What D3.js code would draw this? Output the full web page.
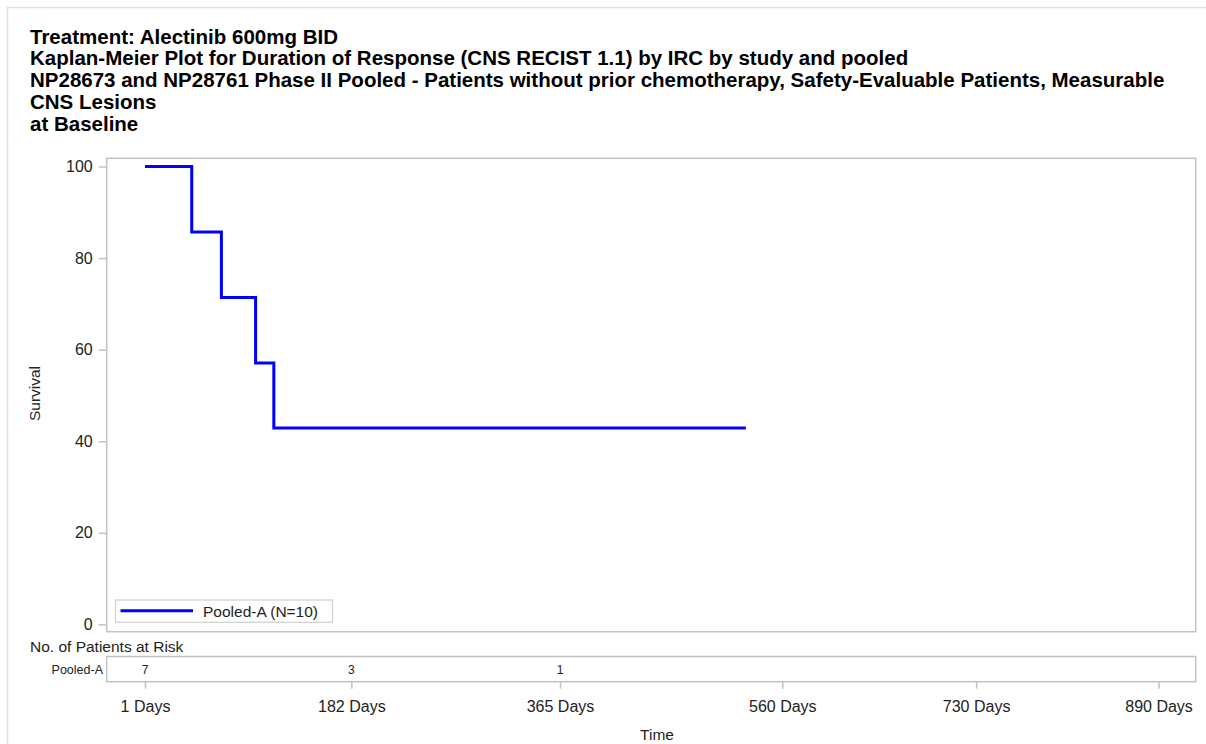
<!DOCTYPE html>
<html>
<head>
<meta charset="utf-8">
<script src="https://cdn.jsdelivr.net/npm/d3@7"></script>
<style>
  html, body { margin: 0; padding: 0; background: #fff; }
  svg { display: block; font-family: "Liberation Sans", Arial, sans-serif; }
</style>
</head>
<body>
<svg id="chart" width="1206" height="744"></svg>
<script>
// ---- data ----
const titleLines = [
  "Treatment: Alectinib 600mg BID",
  "Kaplan-Meier Plot for Duration of Response (CNS RECIST 1.1) by IRC by study and pooled",
  "NP28673 and NP28761 Phase II Pooled - Patients without prior chemotherapy, Safety-Evaluable Patients, Measurable",
  "CNS Lesions",
  "at Baseline"
];
const seriesName = "Pooled-A";
const seriesN = 10;
const stepTimes = [1, 42, 68, 98, 114, 528];
const stepSurvival = [100, 85.7, 71.4, 57.1, 42.9, 42.9];
const yTicks = [0, 20, 40, 60, 80, 100];
const xTicks = [1, 182, 365, 560, 730, 890];
const xTickLabels = ["1 Days", "182 Days", "365 Days", "560 Days", "730 Days", "890 Days"];
const riskTimes = [1, 182, 365];
const riskCounts = [7, 3, 1];

// ---- layout ----
const svg = d3.select("#chart");
const plot = { left: 106.7, right: 1195.7, top: 158.3, bottom: 631.7 };
const riskBox = { top: 656.5, bottom: 681.7 };
const grey = "#c2c2c2";

// outer frame (top & left edges visible)
svg.append("path")
  .attr("d", "M7.5,744 L7.5,7.5 L1206,7.5")
  .attr("fill", "none").attr("stroke", "#e0e0e0").attr("stroke-width", 1.5);

// titles
const tg = svg.append("g").attr("font-weight", "bold").attr("fill", "#000");
const titleBaselines = [43.5, 65.3, 87, 108.8, 130.6];
const tt = tg.selectAll("text").data(titleLines).join("text")
  .attr("x", 30).attr("y", (d, i) => titleBaselines[i])
  .attr("font-size", 20).text(d => d);
// fit font size so the long line spans the same width as the reference
const w3 = tt.nodes()[2].getComputedTextLength();
const fs = 20 * 1135 / w3;
tt.attr("font-size", fs);

// scales
const x = d3.scaleLinear().domain([-32.6, 922.6]).range([plot.left, plot.right]);
const y = d3.scaleLinear().domain([-1.6, 101.8]).range([plot.bottom, plot.top]);

// plot border
svg.append("rect")
  .attr("x", plot.left).attr("y", plot.top)
  .attr("width", plot.right - plot.left).attr("height", plot.bottom - plot.top)
  .attr("fill", "none").attr("stroke", grey).attr("stroke-width", 1.5);

// y axis
const yAxis = svg.append("g").attr("transform", `translate(${plot.left},0)`)
  .call(d3.axisLeft(y).tickValues(yTicks).tickSize(8).tickPadding(6));
yAxis.select(".domain").remove();
yAxis.selectAll(".tick line").attr("stroke", grey).attr("stroke-width", 1.5);
yAxis.selectAll(".tick text").attr("font-size", 16).attr("fill", "#222")
  .attr("font-family", "\"Liberation Sans\", Arial, sans-serif");

svg.append("text")
  .attr("transform", `translate(40,393.5) rotate(-90)`)
  .attr("text-anchor", "middle").attr("font-size", 15.5).attr("fill", "#222")
  .text("Survival");

// KM step line
const line = d3.line()
  .x(d => x(d[0])).y(d => y(d[1]))
  .curve(d3.curveStepAfter);
const pts = stepTimes.map((t, i) => [t, stepSurvival[i]]);
svg.append("path").datum(pts)
  .attr("d", line)
  .attr("fill", "none").attr("stroke", "#0000ff").attr("stroke-width", 3);

// legend
const lg = svg.append("g");
lg.append("rect").attr("x", 115.5).attr("y", 600).attr("width", 217).attr("height", 22.3)
  .attr("fill", "#fff").attr("stroke", "#cfcfcf").attr("stroke-width", 1.2);
lg.append("line").attr("x1", 120.5).attr("x2", 193).attr("y1", 610.8).attr("y2", 610.8)
  .attr("stroke", "#0000ff").attr("stroke-width", 3);
lg.append("text").attr("x", 203).attr("y", 616.8).attr("font-size", 15.5).attr("fill", "#222")
  .text(`${seriesName} (N=${seriesN})`);

// risk table
svg.append("text").attr("x", 30).attr("y", 651.7).attr("font-size", 15.5).attr("fill", "#222")
  .text("No. of Patients at Risk");
svg.append("rect")
  .attr("x", plot.left).attr("y", riskBox.top)
  .attr("width", plot.right - plot.left).attr("height", riskBox.bottom - riskBox.top)
  .attr("fill", "none").attr("stroke", grey).attr("stroke-width", 1.5);
svg.append("text").attr("x", 103).attr("y", 673.5).attr("text-anchor", "end")
  .attr("font-size", 12.5).attr("fill", "#222").text(seriesName);
svg.append("g").selectAll("text").data(riskTimes).join("text")
  .attr("x", d => x(d)).attr("y", 673.8).attr("text-anchor", "middle")
  .attr("font-size", 12).attr("fill", "#222")
  .text((d, i) => riskCounts[i]);

// x axis
const xAxis = svg.append("g").attr("transform", `translate(0,${riskBox.bottom})`)
  .call(d3.axisBottom(x).tickValues(xTicks).tickSize(7).tickFormat((d, i) => xTickLabels[i]));
xAxis.select(".domain").remove();
xAxis.selectAll(".tick line").attr("stroke", grey).attr("stroke-width", 1.5);
xAxis.selectAll(".tick text").attr("font-size", 16).attr("fill", "#222")
  .attr("font-family", "\"Liberation Sans\", Arial, sans-serif")
  .attr("y", 30).attr("dy", 0);

svg.append("text").attr("x", 657).attr("y", 740).attr("text-anchor", "middle")
  .attr("font-size", 15.5).attr("fill", "#222").text("Time");
</script>
</body>
</html>
